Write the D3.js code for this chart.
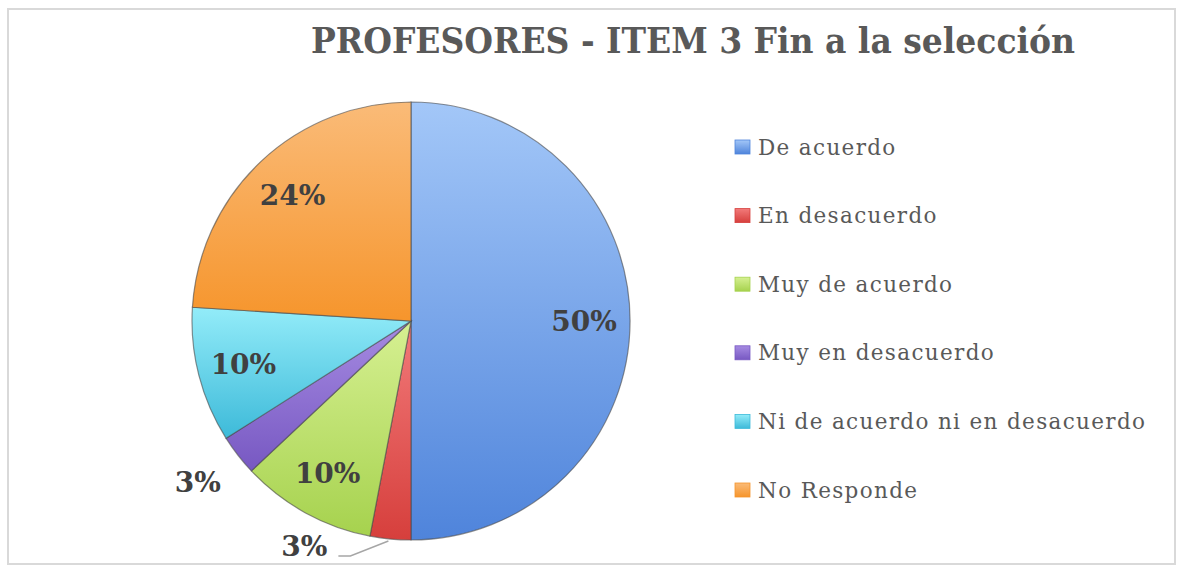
<!DOCTYPE html>
<html><head><meta charset="utf-8">
<script src="https://cdn.jsdelivr.net/npm/d3@7"></script>
<style>body{margin:0;background:#fff}svg{display:block}</style>
</head><body>
<svg id="c" width="1179" height="567"></svg>
<script>
const title = "PROFESORES - ITEM 3 Fin a la selección";
const categories = ["De acuerdo","En desacuerdo","Muy de acuerdo","Muy en desacuerdo","Ni de acuerdo ni en desacuerdo","No Responde"];
const values = [50, 3, 10, 3, 10, 24];
const labels = ["50%","3%","10%","3%","10%","24%"];
const lightColors = ["#a3c7f8","#f27a7a","#d6f092","#a68be2","#93ecf9","#fabb78"];
const darkColors  = ["#4f84db","#d63f3c","#a6d24e","#7758c2","#3dbad9","#f6952c"];

const svg = d3.select("#c");
svg.append("rect").attr("x",8).attr("y",9).attr("width",1167).attr("height",555)
  .attr("fill","#fff").attr("stroke","#d9d9d9").attr("stroke-width",2);

svg.append("text").attr("x",311).attr("y",53).text(title)
  .attr("font-family","DejaVu Serif Condensed").attr("font-weight","bold")
  .attr("font-size",36).attr("fill","#595959")
  .attr("textLength",764).attr("lengthAdjust","spacingAndGlyphs");

const defs = svg.append("defs");
categories.forEach((c,i)=>{
  const g = defs.append("linearGradient").attr("id","g"+i).attr("x1",0).attr("y1",0).attr("x2",0).attr("y2",1);
  g.append("stop").attr("offset","0%").attr("stop-color",lightColors[i]);
  g.append("stop").attr("offset","100%").attr("stop-color",darkColors[i]);
});

const cx = 411, cy = 321, r = 219;
const pie = d3.pie().value(d=>d).sort(null);
const arcs = pie(values);
const arc = d3.arc().innerRadius(0).outerRadius(r);
const gp = svg.append("g").attr("transform",`translate(${cx},${cy})`);
gp.selectAll("path.s").data(arcs).join("path").attr("class","s")
  .attr("d",arc).attr("fill",(d,i)=>`url(#g${i})`)
  .attr("stroke","#4a4a4a").attr("stroke-opacity",0.6).attr("stroke-width",1.2);

const inArc = d3.arc().innerRadius(r*0.79).outerRadius(r*0.79);
arcs.forEach((d,i)=>{
  let x, y;
  const mid = (d.startAngle+d.endAngle)/2;
  if (values[i] >= 5) {
    [x,y] = inArc.centroid(d);
  } else if (i === 3) {
    const rr = r*1.22;
    x = Math.sin(mid)*rr - 2; y = -Math.cos(mid)*rr - 3;
  } else {
    const ax = Math.sin(mid)*r, ay = -Math.cos(mid)*r;
    x = ax - 86; y = ay + 7;
    gp.append("path").attr("d",`M${x+34},${y+10}L${x+46},${y+10}L${ax-2},${ay+2}`)
      .attr("fill","none").attr("stroke","#a6a6a6").attr("stroke-width",1.5);
  }
  gp.append("text").attr("x",x).attr("y",y).attr("text-anchor","middle").attr("dy","0.36em")
    .attr("font-family","DejaVu Serif").attr("font-weight","bold").attr("font-size",28)
    .attr("fill","#404040").text(labels[i]);
});

// legend
const ly = d3.scalePoint().domain(categories).range([147, 490]);
const lg = svg.append("g");
const texts = [];
categories.forEach((c,i)=>{
  const y = ly(c);
  lg.append("rect").attr("x",735).attr("y",y-7).attr("width",15).attr("height",14)
    .attr("fill",`url(#g${i})`).attr("stroke",darkColors[i]).attr("stroke-width",0.8);
  texts.push(lg.append("text").attr("x",758).attr("y",y).attr("dy","0.35em").text(c)
    .attr("font-family","DejaVu Serif").attr("font-size",21.5).attr("fill","#595959"));
});
const natural = texts[4].node().getComputedTextLength();
const n = categories[4].length;
const ls = Math.max(0, (387 - natural) / (n - 1));
texts.forEach(t => t.attr("letter-spacing", ls));
</script>
</body></html>
